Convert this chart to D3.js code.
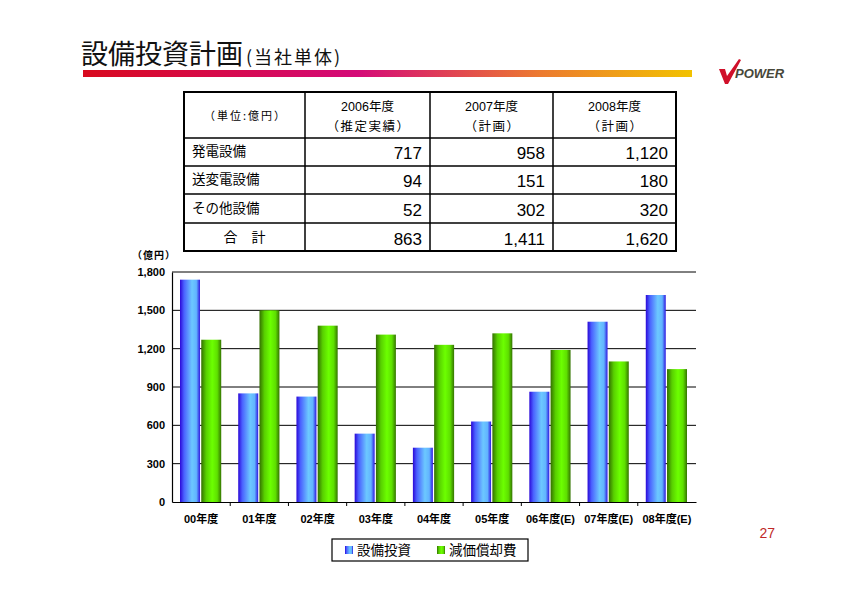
<!DOCTYPE html>
<html>
<head>
<meta charset="utf-8">
<script src="https://cdn.jsdelivr.net/npm/d3@7/dist/d3.min.js"></script>
<style>
  body { margin: 0; background: #fff; }
  svg { display: block; }
  text { font-family: "Liberation Sans", "Noto Sans CJK JP", sans-serif; }
  .jp { font-family: "Noto Sans CJK JP", sans-serif; }
</style>
</head>
<body>
<div id="chart"></div>
<script>
// chart data
var years = ["00年度", "01年度", "02年度", "03年度", "04年度", "05年度", "06年度(E)", "07年度(E)", "08年度(E)"];
var capex = [1740, 850, 825, 535, 425, 630, 863, 1411, 1620];
var depreciation = [1270, 1500, 1380, 1310, 1230, 1320, 1190, 1100, 1040];
var yTicks = [0, 300, 600, 900, 1200, 1500, 1800];
var seriesNames = ["設備投資", "減価償却費"];

// table data
var colHeads = [["2006年度", "（推定実績）"], ["2007年度", "（計画）"], ["2008年度", "（計画）"]];
var rowLabels = ["発電設備", "送変電設備", "その他設備"];
var rowValues = [
    [717, 958, 1120],
    [94, 151, 180],
    [52, 302, 320]
];

var width = 842,
    height = 595;

var svg = d3.select("#chart").append("svg")
    .attr("width", width)
    .attr("height", height);

var defs = svg.append("defs");

// title bar gradient
var tg = defs.append("linearGradient").attr("id", "titlebar");
[[0, "#d80a1e"], [0.45, "#d40a78"], [0.75, "#ec7a30"], [1, "#f2c200"]].forEach(function (s) {
    tg.append("stop").attr("offset", s[0]).attr("stop-color", s[1]);
});

// bar gradients
var barStops = {
    blue: [[0, "#2a08d8"], [0.2, "#4a60ff"], [0.6, "#6cc8ff"], [0.82, "#62b4ff"], [1, "#2e18e0"]],
    green: [[0, "#347000"], [0.25, "#58d000"], [0.55, "#6cff00"], [0.8, "#5ee000"], [1, "#347400"]]
};
Object.keys(barStops).forEach(function (k) {
    var g = defs.append("linearGradient").attr("id", "grad_" + k);
    barStops[k].forEach(function (s) {
        g.append("stop").attr("offset", s[0]).attr("stop-color", s[1]);
    });
});

// title
var title = svg.append("text")
    .attr("class", "jp")
    .attr("x", 81)
    .attr("y", 64)
    .attr("fill", "#111");
title.append("tspan").attr("font-size", "27px").text("設備投資計画");
title.append("tspan")
    .attr("font-size", "18px")
    .attr("dx", 3)
    .attr("letter-spacing", "2px")
    .text("(当社単体)");

svg.append("rect")
    .attr("x", 83).attr("y", 70)
    .attr("width", 609).attr("height", 7)
    .attr("fill", "url(#titlebar)");

// logo
var logo = svg.append("g").attr("transform", "translate(718,63)");
logo.append("path")
    .attr("d", "M1,6 L7,6 L9,13 L21,-4 L23,-3 L10,21 L7,21 Z")
    .attr("fill", "#d0102a");
logo.append("text")
    .attr("x", 17).attr("y", 15)
    .attr("font-size", "13px")
    .attr("font-weight", "bold")
    .attr("font-style", "italic")
    .attr("fill", "#47473a")
    .text("POWER");

// ---- table ----
var tX = [184, 305, 430, 553, 676],
    tY = [92, 138, 166, 194, 223, 251];

var tbl = svg.append("g");

var totals = colHeads.map(function (d, j) {
    return d3.sum(rowValues, function (r) { return r[j]; });
});
var fmt = d3.format(",");

tbl.append("text")
    .attr("x", (tX[0] + tX[1]) / 2 + 1)
    .attr("y", 120)
    .attr("text-anchor", "middle")
    .attr("font-size", "11px")
    .attr("letter-spacing", "2px")
    .attr("class", "jp")
    .text("（単位:億円）");

colHeads.forEach(function (h, j) {
    var cx = (tX[j + 1] + tX[j + 2]) / 2;
    tbl.append("text")
        .attr("x", cx).attr("y", 111)
        .attr("text-anchor", "middle")
        .attr("font-size", "12.5px")
        .text(h[0]);
    tbl.append("text")
        .attr("x", cx + 1).attr("y", 131)
        .attr("text-anchor", "middle")
        .attr("font-size", "12.5px")
        .attr("letter-spacing", "1.5px")
        .attr("class", "jp")
        .text(h[1]);
});

rowLabels.forEach(function (lab, i) {
    var y = (tY[i + 1] + tY[i + 2]) / 2 + 5;
    tbl.append("text")
        .attr("x", 192).attr("y", y - 1)
        .attr("font-size", "13.5px")
        .attr("class", "jp")
        .text(lab);
    rowValues[i].forEach(function (v, j) {
        tbl.append("text")
            .attr("x", tX[j + 2] - 8).attr("y", y + 2)
            .attr("text-anchor", "end")
            .attr("font-size", "17px")
            .text(fmt(v));
    });
});

tbl.append("text")
    .attr("x", (tX[0] + tX[1]) / 2)
    .attr("y", 242)
    .attr("text-anchor", "middle")
    .attr("font-size", "14px")
    .attr("class", "jp")
    .text("合　計");
totals.forEach(function (v, j) {
    tbl.append("text")
        .attr("x", tX[j + 2] - 8).attr("y", 245)
        .attr("text-anchor", "end")
        .attr("font-size", "17px")
        .text(fmt(v));
});

// table lines
tY.slice(1, -1).forEach(function (y) {
    tbl.append("line")
        .attr("x1", tX[0]).attr("x2", tX[4])
        .attr("y1", y).attr("y2", y)
        .attr("stroke", "#000").attr("stroke-width", 1.5);
});
tX.slice(1, -1).forEach(function (x) {
    tbl.append("line")
        .attr("x1", x).attr("x2", x)
        .attr("y1", tY[0]).attr("y2", tY[5])
        .attr("stroke", "#000").attr("stroke-width", 1.5);
});
tbl.append("rect")
    .attr("x", tX[0]).attr("y", tY[0])
    .attr("width", tX[4] - tX[0]).attr("height", tY[5] - tY[0])
    .attr("fill", "none")
    .attr("stroke", "#000").attr("stroke-width", 2);

// ---- bar chart ----
var plot = { left: 172, right: 696, top: 272, bottom: 502 };

var x = d3.scaleBand()
    .domain(years)
    .range([plot.left, plot.right]);

var xs = d3.scaleBand()
    .domain([0, 1])
    .range([8, x.bandwidth() - 9])
    .paddingInner(0.06);

var y = d3.scaleLinear()
    .domain([0, 1800])
    .range([plot.bottom, plot.top]);

var chart = svg.append("g");

// grid lines
chart.selectAll(".grid")
    .data(yTicks.slice(1))
    .enter().append("line")
    .attr("x1", plot.left).attr("x2", plot.right)
    .attr("y1", function (d) { return y(d); })
    .attr("y2", function (d) { return y(d); })
    .attr("stroke", "#000").attr("stroke-width", 1);

// bars
var series = [capex, depreciation],
    fills = ["url(#grad_blue)", "url(#grad_green)"];

series.forEach(function (vals, s) {
    chart.selectAll(".bar" + s)
        .data(vals)
        .enter().append("rect")
        .attr("x", function (d, i) { return x(years[i]) + xs(s); })
        .attr("width", xs.bandwidth())
        .attr("y", function (d) { return y(d); })
        .attr("height", function (d) { return y(0) - y(d); })
        .attr("fill", fills[s]);
});

// y axis
var yAxis = d3.axisLeft(y)
    .tickValues(yTicks)
    .tickSize(0)
    .tickPadding(7)
    .tickFormat(d3.format(","));

var yg = chart.append("g")
    .attr("transform", "translate(" + plot.left + ",0)")
    .call(yAxis);
yg.select(".domain").attr("stroke", "#000").attr("stroke-width", 1.2);
yg.selectAll("text")
    .attr("font-size", "11px")
    .attr("font-weight", "bold")
    .attr("fill", "#000");

// x axis
var xAxis = d3.axisBottom(x)
    .tickSize(0)
    .tickPadding(13);

var xg = chart.append("g")
    .attr("transform", "translate(0," + plot.bottom + ")")
    .call(xAxis);
xg.select(".domain").attr("stroke", "#000").attr("stroke-width", 1.2);
xg.selectAll("text")
    .attr("font-size", "11px")
    .attr("font-weight", "bold")
    .attr("fill", "#000");

// category divider ticks
xg.selectAll(".divtick")
    .data(years.slice(1))
    .enter().append("line")
    .attr("x1", function (d) { return x(d); })
    .attr("x2", function (d) { return x(d); })
    .attr("y1", 0).attr("y2", 4)
    .attr("stroke", "#000");

// unit label
svg.append("text")
    .attr("class", "jp")
    .attr("x", 132).attr("y", 259)
    .attr("font-size", "10px")
    .attr("font-weight", "bold")
    .attr("letter-spacing", "1px")
    .text("（億円）");

// legend
var lg = svg.append("g").attr("transform", "translate(332,539)");
lg.append("rect")
    .attr("width", 196).attr("height", 22)
    .attr("fill", "#fff")
    .attr("stroke", "#000").attr("stroke-width", 1.2);
var legX = [13, 105];
seriesNames.forEach(function (name, s) {
    lg.append("rect")
        .attr("x", legX[s]).attr("y", 7)
        .attr("width", 8).attr("height", 8)
        .attr("fill", fills[s]);
    lg.append("text")
        .attr("class", "jp")
        .attr("x", legX[s] + 12).attr("y", 16)
        .attr("font-size", "13.5px")
        .text(name);
});

// page number
svg.append("text")
    .attr("x", 775).attr("y", 538)
    .attr("text-anchor", "end")
    .attr("font-family", "Liberation Serif, serif")
    .attr("font-size", "14px")
    .attr("fill", "#c02828")
    .text("27");
</script>
</body>
</html>
